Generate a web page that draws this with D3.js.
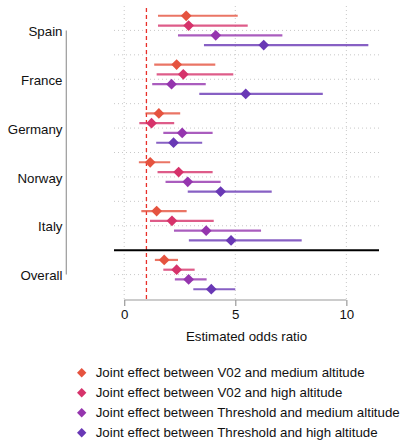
<!DOCTYPE html>
<html>
<head>
<meta charset="utf-8">
<script src="https://cdn.jsdelivr.net/npm/d3@7"></script>
<style>
  body { margin: 0; background: #fff; }
  text { font-family: "Liberation Sans", Arial, sans-serif; fill: #111; }
</style>
</head>
<body>
<div id="chart-container"></div>
<script>
// countries (top to bottom) and the four effects
const countries = ["Spain", "France", "Germany", "Norway", "Italy", "Overall"];
const effects = [
  "Joint effect between V02 and medium altitude",
  "Joint effect between V02 and high altitude",
  "Joint effect between Threshold and medium altitude",
  "Joint effect between Threshold and high altitude"
];
const colors = ["#e5533f", "#d6336b", "#9535ae", "#6938b5"];

// odds ratio estimates, one array per effect, same order as countries
const estV02Med = [2.79, 2.36, 1.56, 1.17, 1.46, 1.80];
const estV02High = [2.90, 2.66, 1.23, 2.45, 2.15, 2.36];
const estThrMed = [4.12, 2.13, 2.61, 2.86, 3.69, 2.90];
const estThrHigh = [6.28, 5.47, 2.22, 4.34, 4.81, 3.92];

// lower / upper confidence limits
const lowV02Med = [1.52, 1.35, 0.96, 0.66, 0.77, 1.38];
const uppV02Med = [5.11, 4.10, 2.52, 2.07, 2.81, 2.42];
const lowV02High = [1.52, 1.46, 0.68, 1.50, 1.16, 1.76];
const uppV02High = [5.56, 4.91, 2.25, 3.98, 4.03, 3.17];
const lowThrMed = [2.42, 1.26, 1.76, 1.86, 2.24, 2.28];
const uppThrMed = [7.12, 3.67, 3.98, 4.34, 6.16, 3.71];
const lowThrHigh = [3.59, 3.38, 1.44, 2.86, 2.91, 3.11];
const uppThrHigh = [10.99, 8.94, 3.51, 6.64, 7.99, 5.00];

const xTicks = [0, 5, 10];
const refLine = 1;

const est = [estV02Med, estV02High, estThrMed, estThrHigh];
const low = [lowV02Med, lowV02High, lowThrMed, lowThrHigh];
const upp = [uppV02Med, uppV02High, uppThrMed, uppThrHigh];

// flat table: one row per country x effect
const rows = [];
countries.forEach((c, g) => {
  effects.forEach((e, k) => {
    rows.push({country: c, g: g, k: k, pos: g * 5 + k, est: est[k][g], lo: low[k][g], hi: upp[k][g]});
  });
});

const width = 401, height = 440;
const panel = {left: 114, right: 379, top: 6, bottom: 299};
const fontSize = 13.3;

const svg = d3.select("#chart-container").append("svg")
  .attr("width", width)
  .attr("height", height);

const x = d3.scaleLinear()
  .domain([-0.46, 11.47])
  .range([panel.left, panel.right]);

// row positions: 4 rows per country, 2 empty between groups
const y = d3.scaleLinear()
  .domain([-1, 29])
  .range([panel.top, panel.bottom]);

const groupCenter = g => g * 5 + 1.5;

// grid
const grid = svg.append("g");
grid.selectAll(".vgrid")
  .data(xTicks)
  .enter().append("line")
  .attr("x1", d => x(d)).attr("x2", d => x(d))
  .attr("y1", panel.top).attr("y2", panel.bottom)
  .attr("stroke", "#c8c8c8")
  .attr("stroke-width", 1)
  .attr("stroke-dasharray", "1,3");

const hgrid = countries.map((c, g) => groupCenter(g))
  .concat(countries.slice(0, -2).map((c, g) => g * 5 + 4));
grid.selectAll(".hgrid")
  .data(hgrid)
  .enter().append("line")
  .attr("x1", panel.left).attr("x2", panel.right)
  .attr("y1", d => y(d)).attr("y2", d => y(d))
  .attr("stroke", "#c8c8c8")
  .attr("stroke-width", 1)
  .attr("stroke-dasharray", "1,3");

// reference line at odds ratio 1
svg.append("line")
  .attr("x1", x(refLine)).attr("x2", x(refLine))
  .attr("y1", panel.top + 2).attr("y2", panel.bottom)
  .attr("stroke", "#e8302a")
  .attr("stroke-width", 1.3)
  .attr("stroke-dasharray", "4,3");

// separator above Overall
svg.append("line")
  .attr("x1", panel.left).attr("x2", panel.right)
  .attr("y1", y(24)).attr("y2", y(24))
  .attr("stroke", "#000")
  .attr("stroke-width", 2);

// confidence intervals
svg.selectAll(".ci")
  .data(rows)
  .enter().append("line")
  .attr("class", "ci")
  .attr("x1", d => x(d.lo)).attr("x2", d => x(d.hi))
  .attr("y1", d => y(d.pos)).attr("y2", d => y(d.pos))
  .attr("stroke", d => colors[d.k])
  .attr("stroke-opacity", 0.8)
  .attr("stroke-width", 2.2);

// point estimates
const diamond = d3.symbol().type(d3.symbolSquare).size(58);
svg.selectAll(".pt")
  .data(rows)
  .enter().append("path")
  .attr("class", "pt")
  .attr("d", diamond)
  .attr("transform", d => `translate(${x(d.est)},${y(d.pos)}) rotate(45)`)
  .attr("fill", d => colors[d.k]);

// y axis: capped line + labels
svg.append("line")
  .attr("x1", 66.3).attr("x2", 66.3)
  .attr("y1", y(groupCenter(0))).attr("y2", y(groupCenter(countries.length - 1)))
  .attr("stroke", "#9a9a9a")
  .attr("stroke-width", 1.2);

svg.selectAll(".ylab")
  .data(countries)
  .enter().append("text")
  .attr("x", 62.5)
  .attr("y", (d, g) => y(groupCenter(g)) + 1)
  .attr("dy", "0.35em")
  .attr("text-anchor", "end")
  .attr("font-size", fontSize)
  .text(d => d);

// x axis
const xAxis = svg.append("g")
  .attr("transform", `translate(0, ${panel.bottom + 1})`)
  .call(d3.axisBottom(x).tickValues(xTicks).tickSize(6).tickPadding(4).tickSizeOuter(0));
xAxis.select(".domain")
  .attr("d", `M${x(xTicks[0])},0H${x(xTicks[xTicks.length - 1])}`)
  .attr("stroke", "#9a9a9a")
  .attr("stroke-width", 1.2);
xAxis.selectAll(".tick line").attr("stroke", "#9a9a9a").attr("stroke-width", 1.2);
xAxis.selectAll(".tick text")
  .attr("font-size", fontSize)
  .attr("font-family", "Liberation Sans, Arial, sans-serif")
  .attr("fill", "#111");

svg.append("text")
  .attr("x", (panel.left + panel.right) / 2)
  .attr("y", 340.5)
  .attr("text-anchor", "middle")
  .attr("font-size", fontSize)
  .text("Estimated odds ratio");

// legend
const legend = svg.selectAll(".legend")
  .data(effects)
  .enter().append("g")
  .attr("transform", (d, i) => `translate(81.7, ${372.7 + i * 20})`);
legend.append("path")
  .attr("d", d3.symbol().type(d3.symbolSquare).size(44))
  .attr("transform", "rotate(45)")
  .attr("fill", (d, i) => colors[i]);
legend.append("text")
  .attr("x", 14)
  .attr("dy", "0.35em")
  .attr("font-size", fontSize)
  .text(d => d);
</script>
</body>
</html>
